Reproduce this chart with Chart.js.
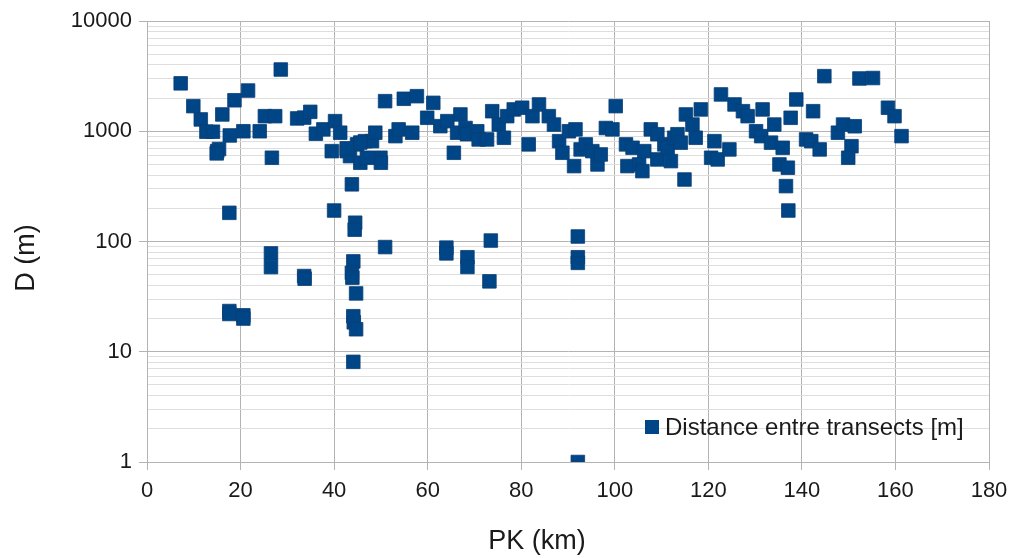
<!DOCTYPE html>
<html>
<head>
<meta charset="utf-8">
<script src="https://cdn.jsdelivr.net/npm/chart.js@4.4.1/dist/chart.umd.min.js"></script>
<style>
  html, body { margin: 0; padding: 0; background: #ffffff; }
  #wrap { width: 1010px; height: 558px; }
</style>
</head>
<body>
<div id="wrap"><canvas id="c" width="1010" height="558"></canvas></div>
<script>
// PK (km) of each transect
const pk = [
  7.2, 9.9, 11.5, 12.7, 14.1, 15.0, 15.4, 14.9, 16.1, 17.7, 18.7, 20.6, 21.6, 24.1, 25.2, 27.4, 26.7, 28.6,
  32.1, 33.6, 34.9, 36.1, 37.7, 40.2, 41.3, 39.5, 42.7, 43.4, 44.9, 45.6, 46.6, 48.1, 48.8, 47.0, 49.9, 50.0,
  43.8, 50.9, 53.1, 53.8, 54.9, 56.7, 57.7, 61.2, 59.9, 62.7, 64.2, 67.0, 66.3, 65.6, 68.1, 68.4, 70.6, 70.9,
  72.7, 73.8, 75.2, 76.3, 77.0, 78.4, 80.2, 81.6, 82.4, 83.8, 85.9, 87.0, 88.1, 88.8, 90.2, 91.6, 91.3, 92.7,
  93.8, 95.2, 96.3, 97.0, 98.1, 100.2, 99.5, 102.4, 102.7, 103.8, 105.2, 105.9, 106.3, 107.7, 109.1, 109.1,
  110.6, 111.3, 112.0, 112.7, 113.4, 114.1, 114.9, 115.2, 116.6, 117.3, 118.4, 120.6, 121.3, 122.0, 122.7,
  124.5, 125.6, 127.4, 128.4, 130.2, 131.6, 131.3, 134.1, 133.4, 135.9, 135.2, 137.0, 137.6, 138.8, 136.6,
  137.1, 140.9, 142.0, 142.4, 143.8, 144.8, 147.7, 148.8, 151.3, 150.6, 149.9, 152.3, 155.2, 158.4, 159.8, 161.3,
  42.7, 45.6,
  17.6, 40.0, 44.5, 44.4, 50.9, 26.5, 26.5, 33.6, 33.7, 44.1, 43.8, 43.9, 44.7, 17.6, 17.6, 20.6, 20.6, 44.1,
  44.2, 44.7, 44.1, 64.0, 64.0, 68.5, 68.5, 73.5, 73.2, 92.1, 92.1, 92.1, 92.1
];
// D (m): distance between transects
const dist = [
  2720, 1690, 1280, 990, 990, 660, 690, 630, 1420, 916, 1910, 1000, 2340, 1000, 1370, 1370, 575, 3630,
  1307, 1330, 1500, 950, 1040, 1235, 970, 660, 660, 595, 760, 518, 813, 813, 970, 575, 575, 518,
  330, 1875, 903, 1040, 1970, 970, 2080, 1810, 1325, 1112, 1235, 1420, 970, 638, 1070, 940, 1000, 843,
  843, 1520, 1150, 873, 1370, 1577, 1634, 760, 1370, 1750, 1370, 1150, 813, 638, 1000, 1040, 483, 684,
  760, 660, 500, 616, 1070, 1690, 1040, 760, 483, 708, 500, 435, 660, 1040, 940, 555,
  760, 708, 536, 873, 940, 788, 365, 1420, 1150, 873, 1577, 575, 813, 555, 2157,
  684, 1750, 1520, 1370, 1000, 1577, 903, 1150, 788, 708, 500, 467, 1325, 1942, 318,
  191, 843, 813, 1520, 684, 3160, 970, 1150, 1110, 732, 575, 3010, 3040, 1634, 1370, 903,
  700, 790,
  182, 191, 148, 128, 89, 78, 58.6, 48.6, 46, 66, 52, 47, 33.8, 23.4, 22, 21.4, 20, 21,
  18.5, 16, 8.1, 88, 78, 72, 58.7, 102, 43.5, 111, 72, 64, 1
];
const yMajorTicks = [1, 10, 100, 1000, 10000];
const xTicks = [0, 20, 40, 60, 80, 100, 120, 140, 160, 180];
const seriesLabel = 'Distance entre transects [m]';
const xTitle = 'PK (km)';
const yTitle = 'D (m)';

const points = pk.map((x, i) => ({ x: x, y: dist[i] }));
const MARK = '#004586';
const TXT = '#1a1a1a';
const FONT = "'Liberation Sans', Arial, sans-serif";

const decorPlugin = {
  id: 'decor',
  afterDraw(chart) {
    const ctx = chart.ctx;
    const a = chart.chartArea;
    // legend inside plot area
    const mx = 652, my = a.top + 406;
    ctx.save();
    ctx.fillStyle = MARK;
    ctx.fillRect(mx - 7, my - 7, 14, 14);
    ctx.fillStyle = TXT;
    ctx.font = "24px " + FONT;
    ctx.textBaseline = 'middle';
    ctx.textAlign = 'left';
    ctx.fillText(seriesLabel, mx + 13, my + 1);
    // axis titles
    ctx.font = "27px " + FONT;
    ctx.textAlign = 'center';
    ctx.fillText(xTitle, 537, 542);
    ctx.translate(27, 258);
    ctx.rotate(-Math.PI / 2);
    ctx.fillText(yTitle, 0, 0);
    ctx.restore();
  }
};

new Chart(document.getElementById('c'), {
  type: 'scatter',
  data: {
    datasets: [{
      label: seriesLabel,
      data: points,
      pointStyle: 'rect',
      pointRadius: 9.6,
      pointHoverRadius: 9.6,
      backgroundColor: MARK,
      borderColor: '#0a3f75',
      borderWidth: 0.8
    }]
  },
  options: {
    responsive: false,
    animation: false,
    devicePixelRatio: 1,
    layout: { padding: { top: 21, right: 21, left: 0, bottom: 0 } },
    plugins: {
      legend: { display: false },
      tooltip: { enabled: false }
    },
    scales: {
      x: {
        type: 'linear',
        min: 0, max: 180,
        afterFit(s) { s.height = 96; s.paddingLeft = 0; s.paddingRight = 0; },
        afterBuildTicks(s) { s.ticks = xTicks.map(v => ({ value: v })); },
        ticks: { color: TXT, font: { family: FONT, size: 22 }, padding: 8 },
        grid: { color: '#b3b3b3', lineWidth: 1, tickLength: 8, tickColor: '#b3b3b3' },
        border: { color: '#b3b3b3' },
        title: { display: false }
      },
      y: {
        type: 'logarithmic',
        min: 1, max: 10000,
        afterFit(s) { s.width = 147; s.paddingTop = 0; s.paddingBottom = 0; },
        afterBuildTicks(s) {
          const t = [];
          yMajorTicks.forEach((m, i) => {
            t.push({ value: m, major: true });
            if (i < yMajorTicks.length - 1) {
              for (let k = 2; k <= 9; k++) t.push({ value: m * k, major: false });
            }
          });
          s.ticks = t;
        },
        ticks: {
          autoSkip: false,
          color: TXT,
          font: { family: FONT, size: 22 },
          padding: 7,
          callback(v) { return yMajorTicks.includes(v) ? String(v) : ''; }
        },
        grid: {
          lineWidth: 1,
          tickLength: 8,
          color(ctx) { return ctx.tick && yMajorTicks.includes(ctx.tick.value) ? '#b3b3b3' : '#dedede'; },
          tickColor(ctx) { return ctx.tick && yMajorTicks.includes(ctx.tick.value) ? '#b3b3b3' : 'rgba(0,0,0,0)'; }
        },
        border: { color: '#b3b3b3' },
        title: { display: false }
      }
    }
  },
  plugins: [decorPlugin]
});
</script>
</body>
</html>
